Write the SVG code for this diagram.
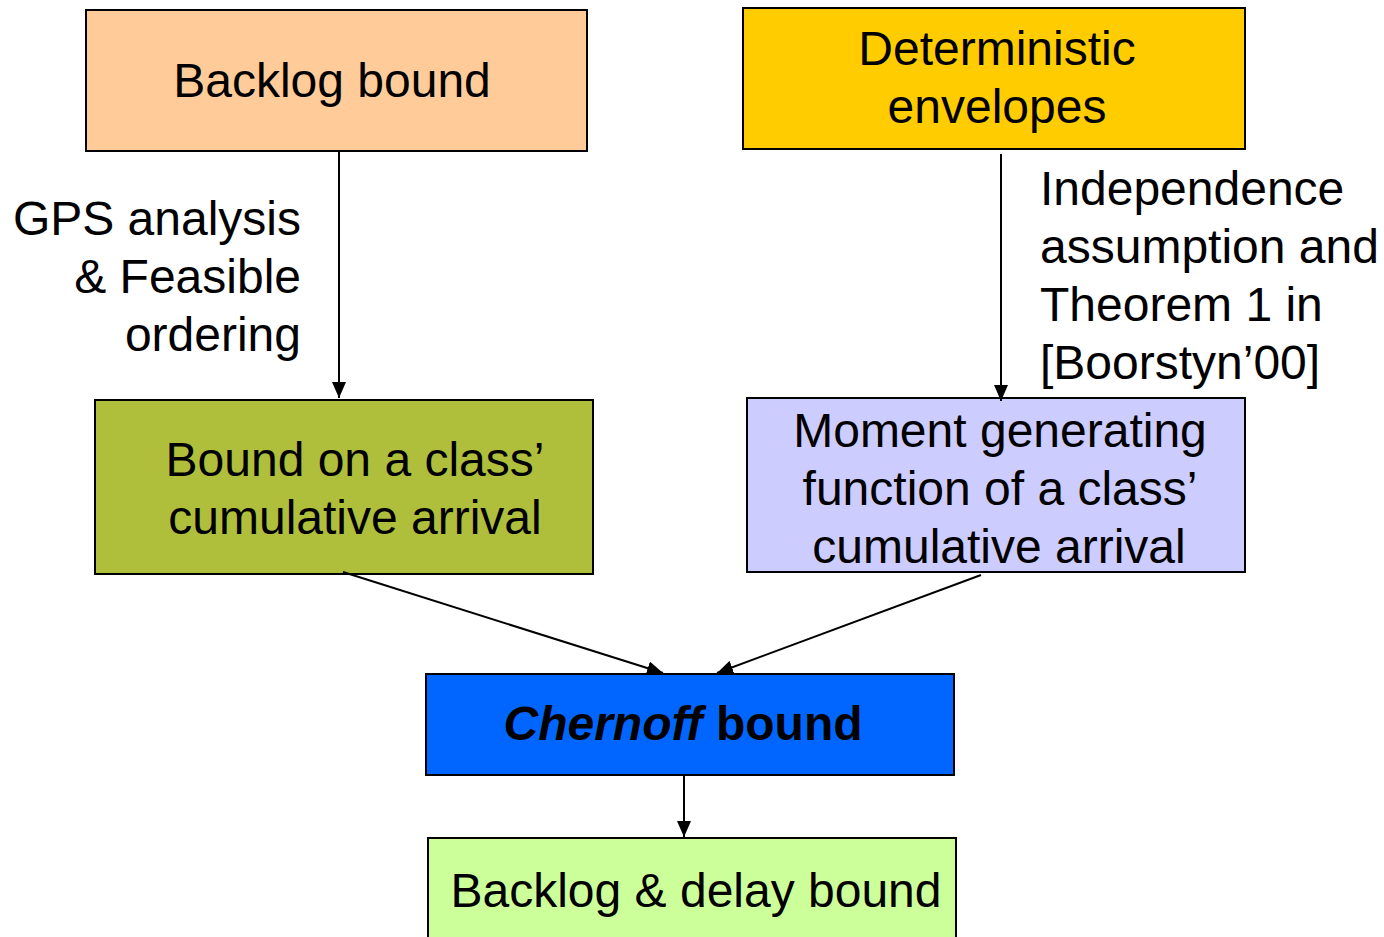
<svg xmlns="http://www.w3.org/2000/svg" width="1384" height="937" viewBox="0 0 1384 937">
<style>
.box{stroke:#000;stroke-width:2}
text{font-family:"Liberation Sans",Arial,sans-serif;font-size:48px;fill:#000}
.c{text-anchor:middle}
.r{text-anchor:end}
.conn line{stroke:#000;stroke-width:2;marker-end:url(#ah)}
</style>
<defs>
<marker id="ah" viewBox="0 0 16 14" refX="16" refY="7" markerWidth="16" markerHeight="14" markerUnits="userSpaceOnUse" orient="auto">
<path d="M0,0 L16,7 L0,14 z" fill="#000"/>
</marker>
</defs>
<rect width="1384" height="937" fill="#fff"/>
<g id="n-backlog"><rect class="box" x="86" y="10" width="501" height="141" fill="#FFCC99"/><text class="c" x="332" y="97">Backlog bound</text></g>
<g id="n-det"><rect class="box" x="743" y="8" width="502" height="141" fill="#FFCC00"/><text class="c" x="997" y="65">Deterministic</text><text class="c" x="997" y="123">envelopes</text></g>
<g id="n-boundclass"><rect class="box" x="95" y="400" width="498" height="174" fill="#AFBF3B"/><text class="c" x="355" y="476">Bound on a class’</text><text class="c" x="355" y="534">cumulative arrival</text></g>
<g id="n-mgf"><rect class="box" x="747" y="398" width="498" height="174" fill="#CCCCFF"/><text class="c" x="1000" y="447">Moment generating</text><text class="c" x="1000" y="505">function of a class’</text><text class="c" x="999" y="563">cumulative arrival</text></g>
<g id="n-chernoff"><rect class="box" x="426" y="674" width="528" height="101" fill="#0066FF"/><text class="c" x="683" y="740" font-weight="bold"><tspan font-style="italic">Chernoff</tspan> bound</text></g>
<g id="n-final"><rect class="box" x="428" y="838" width="528" height="110" fill="#CCFF99"/><text class="c" x="696" y="907">Backlog &amp; delay bound</text></g>
<g id="labels">
<text class="r" x="301" y="235">GPS analysis</text>
<text class="r" x="301" y="293">&amp; Feasible</text>
<text class="r" x="301" y="351">ordering</text>
<text x="1040" y="205">Independence</text>
<text x="1040" y="263">assumption and</text>
<text x="1040" y="321">Theorem 1 in</text>
<text x="1040" y="379">[Boorstyn’00]</text>
</g>
<g class="conn" id="connectors">
<line x1="339" y1="151" x2="339" y2="398"/>
<line x1="1001" y1="154" x2="1001" y2="401"/>
<line x1="343" y1="572" x2="663" y2="673"/>
<line x1="981" y1="575" x2="717" y2="673"/>
<line x1="684" y1="775" x2="684" y2="837"/>
</g>
</svg>
